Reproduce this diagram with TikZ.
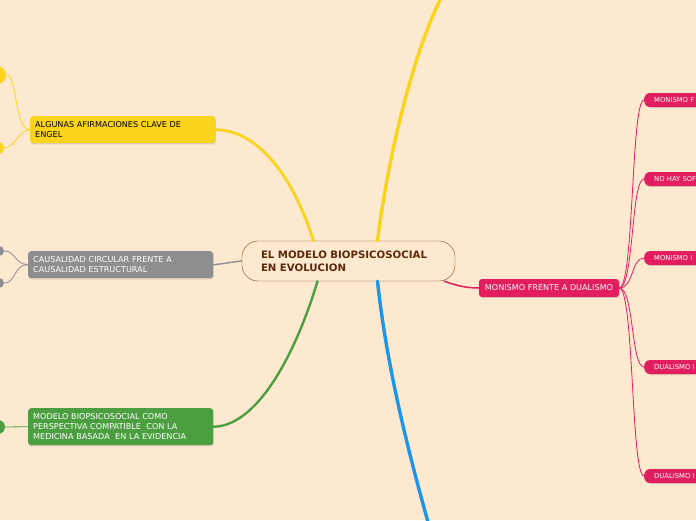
\documentclass[tikz,border=0pt]{standalone}
\usepackage{fontspec}
\setmainfont{DejaVu Sans}
\usetikzlibrary{shadows}
\definecolor{bgcol}{HTML}{FDE8D0}
\definecolor{ylw}{HTML}{F9D31C}
\definecolor{gry}{HTML}{8E8E91}
\definecolor{grn}{HTML}{4C9F40}
\definecolor{pnk}{HTML}{E21E5E}
\definecolor{blu}{HTML}{1E96E8}
\definecolor{brn}{HTML}{7B4B1E}
\definecolor{brntxt}{HTML}{5A2A0A}

\begin{document}
\begin{tikzpicture}[x=1pt,y=-1pt,line cap=round,
    topic/.style={rounded corners=3pt,inner xsep=5pt,inner ysep=0pt,align=left,anchor=north west,text width=175pt,
        drop shadow={opacity=.25,shadow xshift=.6pt,shadow yshift=-1.2pt},font=\fontsize{8.1}{9.8}\selectfont},
    sub node/.style={fill=pnk,text=white,rounded corners=6pt,anchor=west,minimum height=14pt,text width=70pt,
        inner xsep=10pt,inner ysep=0pt,align=left,font=\fontsize{6.8}{7.5}\selectfont,
        drop shadow={opacity=.25,shadow xshift=.6pt,shadow yshift=-1.2pt}},
    leaf/.style={circle,inner sep=0pt}]

    \fill[bgcol] (0,0) rectangle (696,520);
    \clip (0,0) rectangle (696,520);

    \node[draw=brn,fill=bgcol,rounded corners=16pt,minimum width=213pt,minimum height=40pt,text width=175pt,
        align=left,text=brntxt,font=\bfseries\fontsize{10.2}{12.8}\selectfont] (title) at (348.5,261)
        {EL MODELO BIOPSICOSOCIAL\\EN EVOLUCION};

    \node[topic,fill=ylw,text=black,minimum height=27pt] (engel) at (30,116) {ALGUNAS AFIRMACIONES CLAVE DE\\ENGEL};
    \node[topic,fill=gry,text=white,minimum height=27pt] (causa) at (28,251) {CAUSALIDAD CIRCULAR FRENTE A\\CAUSALIDAD ESTRUCTURAL};
    \node[topic,fill=grn,text=white,minimum height=37pt] (mbe) at (28,408) {MODELO BIOPSICOSOCIAL COMO\\PERSPECTIVA COMPATIBLE~ CON LA\\MEDICINA BASADA~ EN LA EVIDENCIA};
    \node[fill=pnk,text=white,rounded corners=3pt,minimum width=140pt,minimum height=18pt,inner sep=0pt,
        font=\fontsize{8.1}{9}\selectfont,drop shadow={opacity=.25,shadow xshift=.6pt,shadow yshift=-1.2pt}] (mvsd) at (549,288) {MONISMO FRENTE A DUALISMO};

    \node[sub node] (r1) at (644,100) {MONISMO F};
    \node[sub node] (r2) at (644,179) {NO HAY SOF};
    \node[sub node] (r3) at (644,258) {MONISMO I};
    \node[sub node] (r4) at (644,367) {DUALISMO I};
    \node[sub node] (r5) at (644,476) {DUALISMO I};

    \node[leaf,fill=ylw,minimum size=18pt] (y1) at (-3,75) {};
    \node[leaf,fill=ylw,minimum size=12pt] (y2) at (-2,148) {};
    \node[leaf,fill=gry,minimum size=10pt] (g1) at (-1,251) {};
    \node[leaf,fill=gry,minimum size=10pt] (g2) at (-1,283) {};
    \node[leaf,fill=grn,minimum size=14pt] (v1) at (-2,427) {};

    \coordinate (top) at (441,-2);
    \coordinate (bottom) at (428,522);

    % main branches
    \draw[ylw,line width=2.8pt] ([xshift=-35pt]title.north) .. controls (296,185) and (262,130) .. (engel.east);
    \draw[ylw,line width=3.4pt] ([xshift=29pt]title.north) .. controls (386,170) and (410,60) .. (top);
    \draw[gry,line width=1.4pt] (title.west) .. controls (232,262) and (222,264) .. (causa.east);
    \draw[grn,line width=2.4pt] ([xshift=-31pt]title.south) .. controls (300,340) and (262,426) .. (mbe.east);
    \draw[blu,line width=3.4pt] ([xshift=29pt]title.south) .. controls (386,360) and (405,440) .. (bottom);
    \draw[pnk,line width=1.5pt] ([xshift=-11pt]title.south east) .. controls (455,285) and (465,288) .. (mvsd.west);

    % sub branches
    \foreach \r/\y in {r1/100,r2/179,r3/258,r4/367,r5/476}
        \draw[pnk,line width=.8pt] (mvsd.east) .. controls (634,288) and (631,\y) .. (\r.west);
    \draw[ylw,line width=.8pt] (engel.west) .. controls (14,130) and (18,75) .. (y1.east);
    \draw[ylw,line width=.8pt] (engel.west) .. controls (18,130) and (16,147) .. (y2.east);
    \draw[gry,line width=.8pt] (causa.west) .. controls (14,264) and (16,251) .. (g1.east);
    \draw[gry,line width=.8pt] (causa.west) .. controls (14,264) and (16,283) .. (g2.east);
    \draw[grn,line width=.8pt] (mbe.west) -- (v1.east);
\end{tikzpicture}
\end{document}
